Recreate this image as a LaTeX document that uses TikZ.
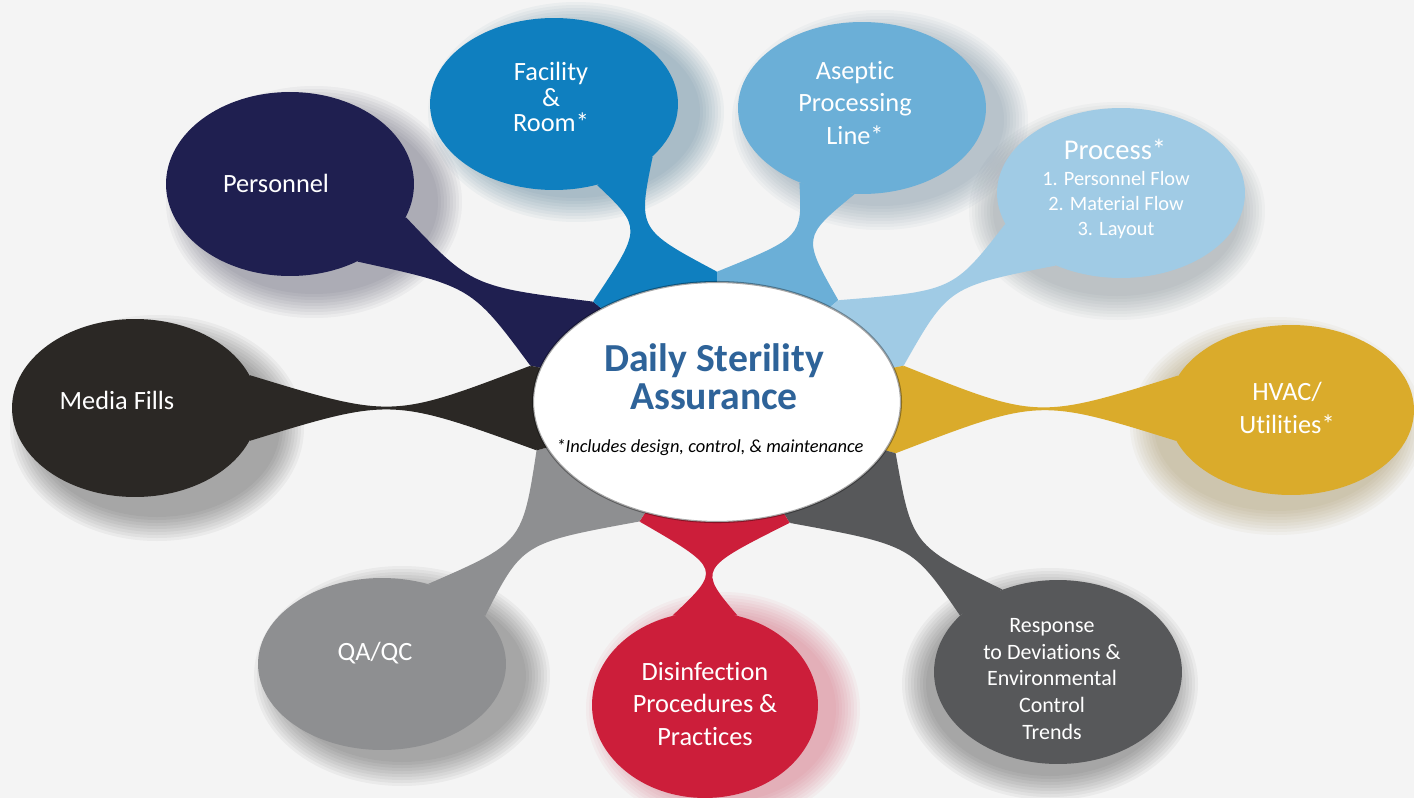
\documentclass[tikz,border=0pt]{standalone}
\usepackage{fontspec}
\setmainfont{Carlito}[Ligatures=NoCommon]
\usetikzlibrary{shapes.geometric, calc}

\definecolor{bgcol}{HTML}{F4F4F4}
\definecolor{navy}{HTML}{1F1F50}
\definecolor{facblue}{HTML}{0F7FBF}
\definecolor{asepblue}{HTML}{6BAFD7}
\definecolor{procblue}{HTML}{A0CBE5}
\definecolor{gold}{HTML}{DAAB2B}
\definecolor{coal}{HTML}{2B2825}
\definecolor{qagrey}{HTML}{8E8F91}
\definecolor{red}{HTML}{CC1E3A}
\definecolor{respgrey}{HTML}{57585A}
\definecolor{titleblue}{HTML}{2E6399}

\pgfdeclarelayer{back}
\pgfsetlayers{back,main}

\tikzset{
  sat/.style={ellipse, inner sep=0pt},
  txt/.style={text=white, align=center, font=\fontsize{15}{18.7}\selectfont},
}

% soft shadow under a bubble
\newcommand{\halo}[6]{%
  \foreach \g in {0,3,...,24}
    \fill[#2, fill opacity=0.04] ($(#1.center)+(#5,#6)$) ellipse [x radius=#3+\g, y radius=#4+\g];
}

% connector from a bubble to the hub ring
\newcommand{\sprout}[7]{%
  \path ($(#2.#3)!0.5!(#2.#4)$) coordinate (sm)
        ($(hub.#5)!0.5!(hub.#6)$) coordinate (hm)
        ($(sm)!0.5!(hm)$) coordinate (w)
        ($(#2.#3)!0.5!(hub.#5)$) coordinate (a1)
        ($(#2.#4)!0.5!(hub.#6)$) coordinate (a2)
        ($(w)!#7!(a1)$) coordinate (k1)
        ($(w)!#7!(a2)$) coordinate (k2);
  \fill[#1] (#2.#3) .. controls (k1) and (k1) .. (hub.#5)
    -- (hub.#6) .. controls (k2) and (k2) .. (#2.#4) -- cycle;
  \begin{scope}
    \clip (hub.center) ellipse [x radius=3.88cm, y radius=2.6cm];
    \fill[#1] (hub.center) -- ($(hub.center)!3!(hub.#5)$) -- ($(hub.center)!3!(hub.#6)$) -- cycle;
  \end{scope}
}

\begin{document}
\begin{tikzpicture}[x=0.02cm, y=-0.02cm]
  \useasboundingbox (0,0) rectangle (1414,798);

  \node[ellipse, inner sep=0pt, minimum width=7.76cm, minimum height=5.2cm] (hub) at (717,402) {};
  \node[ellipse, inner sep=0pt, minimum width=7.36cm, minimum height=4.8cm, fill=white,
    draw=black, draw opacity=0.35, line width=1.2pt] (core) at (717,402) {};
  \node[text=titleblue, align=center, font=\bfseries\fontsize{22.6}{21.5}\selectfont] (title) at (714,377) {Daily Sterility\\Assurance};
  \node[font=\itshape\fontsize{10.5}{12}\selectfont] (note) at (710,448) {*Includes design, control, \& maintenance};

  \node[sat, fill=navy, minimum width=4.96cm, minimum height=3.68cm] (pers) at (290,184) {};
  \node[sat, fill=facblue, minimum width=4.96cm, minimum height=3.44cm] (fac) at (554,104) {};
  \node[sat, fill=asepblue, minimum width=4.96cm, minimum height=3.44cm] (asep) at (862,108) {};
  \node[sat, fill=procblue, minimum width=4.96cm, minimum height=3.4cm] (proc) at (1121,193) {};
  \node[sat, fill=gold, minimum width=4.92cm, minimum height=3.4cm] (hvac) at (1291,410) {};
  \node[sat, fill=coal, minimum width=4.92cm, minimum height=3.56cm] (media) at (135,408) {};
  \node[sat, fill=qagrey, minimum width=4.96cm, minimum height=3.44cm] (qaqc) at (382,664) {};
  \node[sat, fill=red, minimum width=4.52cm, minimum height=3.72cm] (disinf) at (705,705) {};
  \node[sat, fill=respgrey, minimum width=4.96cm, minimum height=3.68cm] (resp) at (1058,672) {};

  \node[txt] (tpers) at (276,183) {Personnel};
  \node[txt, font=\fontsize{15}{14.5}\selectfont] (tfac) at (551,97) {Facility\\\&\\Room*};
  \node[txt] (tasep) at (855,103) {Aseptic\\Processing\\Line*};
  \node[txt, font=\fontsize{16.3}{19}\selectfont] (tproc) at (1115,149) {Process*};
  \node[txt, font=\fontsize{11.6}{14}\selectfont] (tlist) at (1116,205) {1. Personnel Flow\\2. Material Flow\\3. Layout};
  \node[txt] (thvac) at (1287,408) {HVAC/\\Utilities*};
  \node[txt] (tmedia) at (117,400) {Media Fills};
  \node[txt] (tqaqc) at (375,653) {QA/QC};
  \node[txt] (tdisinf) at (705,704) {Disinfection\\Procedures \&\\Practices};
  \node[txt, font=\fontsize{12.5}{15.3}\selectfont] (tresp) at (1052,679) {Response\\to Deviations \&\\Environmental\\Control\\Trends};

  \begin{pgfonlayer}{back}
    \fill[bgcol] (0,0) rectangle (1414,798);
    \halo{pers}{navy!60!black}{124}{92}{24}{18}
    \halo{fac}{facblue!55!black}{124}{86}{22}{8}
    \halo{asep}{asepblue!55!black}{124}{86}{18}{12}
    \halo{proc}{procblue!45!black}{124}{85}{-4}{18}
    \halo{hvac}{gold!60!black}{123}{85}{-14}{16}
    \halo{media}{black}{123}{89}{22}{20}
    \halo{qaqc}{black}{124}{86}{20}{12}
    \halo{disinf}{red}{113}{93}{18}{4}
    \halo{resp}{black}{124}{92}{-8}{12}

    \sprout{navy}{pers}{-16}{-49}{141}{169}{0}
    \sprout{facblue}{fac}{-62}{-28}{141}{90}{-0.05}
    \sprout{asepblue}{asep}{-130}{-95}{90}{40}{0}
    \sprout{procblue}{proc}{195}{228}{40}{11}{-0.08}
    \sprout{gold}{hvac}{163}{195}{11}{-16}{-0.28}
    \sprout{respgrey}{resp}{124}{150}{-16}{-59}{0}
    \sprout{red}{disinf}{70}{110}{-59}{-123}{-0.22}
    \sprout{qagrey}{qaqc}{60}{25}{195}{237}{0}
    \sprout{coal}{media}{16}{-16}{169}{195}{-0.28}
  \end{pgfonlayer}
\end{tikzpicture}
\end{document}
